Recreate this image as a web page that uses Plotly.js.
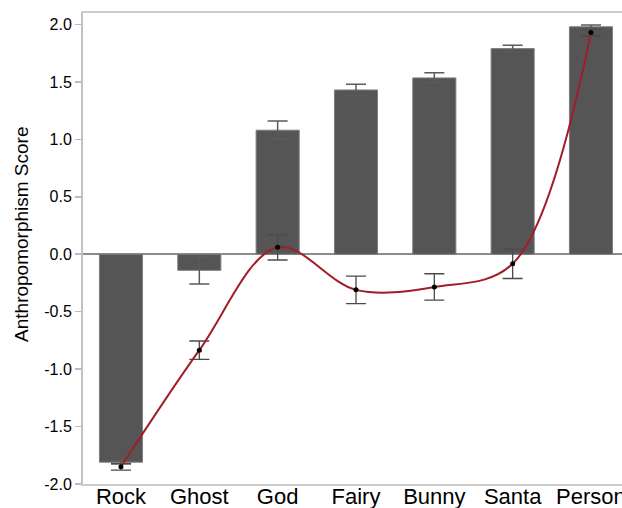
<!DOCTYPE html>
<html>
<head>
<meta charset="utf-8">
<script src="https://cdn.plot.ly/plotly-3.0.1.min.js"></script>
<style>html,body{margin:0;padding:0;background:#fff;}#chart{width:622px;height:508px;}</style>
</head>
<body>
<div id="chart"></div>
<script>
var categories = ['Rock', 'Ghost', 'God', 'Fairy', 'Bunny', 'Santa', 'Person'];
var barValues = [-1.81, -0.14, 1.08, 1.43, 1.535, 1.79, 1.98];
var barErrors = [0.015, 0.12, 0.08, 0.05, 0.045, 0.03, 0.015];
var lineValues = [-1.85, -0.835, 0.06, -0.31, -0.285, -0.083, 1.93];
var lineErrors = [0.03, 0.08, 0.11, 0.12, 0.115, 0.128, 0.03];
var yTickVals = [-2.0, -1.5, -1.0, -0.5, 0.0, 0.5, 1.0, 1.5, 2.0];
var yTickText = ['-2.0', '-1.5', '-1.0', '-0.5', '0.0', '0.5', '1.0', '1.5', '2.0'];

var bars = {
  type: 'bar', x: categories, y: barValues,
  marker: {color: '#555555', line: {color: '#7d7d7d', width: 1}},
  error_y: {type: 'data', array: barErrors, visible: true, color: '#5a5a5a', thickness: 1.5, width: 10},
  hoverinfo: 'skip', showlegend: false
};
var line = {
  type: 'scatter', mode: 'lines+markers', x: categories, y: lineValues,
  line: {color: '#a11d28', width: 2, shape: 'spline', smoothing: 1},
  marker: {color: '#000000', size: 5},
  error_y: {type: 'data', array: lineErrors, visible: true, color: '#4a4a4a', thickness: 1.3, width: 10},
  hoverinfo: 'skip', showlegend: false
};

var layout = {
  width: 622, height: 508,
  margin: {l: 83, r: 0, t: 13, b: 24, pad: 0},
  paper_bgcolor: '#ffffff', plot_bgcolor: '#ffffff',
  bargap: 0.45,
  font: {family: 'Liberation Sans, Arial, sans-serif', color: '#000'},
  xaxis: {
    type: 'category', range: [-0.485, 6.396],
    showline: true, linecolor: '#cccccc', linewidth: 2, mirror: true,
    ticks: '', showgrid: false, zeroline: false,
    ticklabelstandoff: -8,
    tickfont: {size: 22, color: '#000'}
  },
  yaxis: {
    range: [-2.0, 2.1], tickvals: yTickVals, ticktext: yTickText,
    showline: true, linecolor: '#c2c2c2', linewidth: 2, mirror: false,
    ticks: 'outside', ticklen: 6, tickwidth: 1.5, tickcolor: '#bbbbbb',
    showgrid: false, zeroline: true, zerolinecolor: '#8c8c8c', zerolinewidth: 1.5,
    tickfont: {size: 16, color: '#000'}
  },
  annotations: [{
    text: 'Anthropomorphism Score', textangle: -90,
    xref: 'paper', yref: 'paper', x: -0.113, y: 0.529,
    xanchor: 'center', yanchor: 'middle', showarrow: false,
    font: {size: 19, color: '#000'}
  }]
};

Plotly.newPlot('chart', [bars, line], layout, {displayModeBar: false, staticPlot: true});
</script>
</body>
</html>
